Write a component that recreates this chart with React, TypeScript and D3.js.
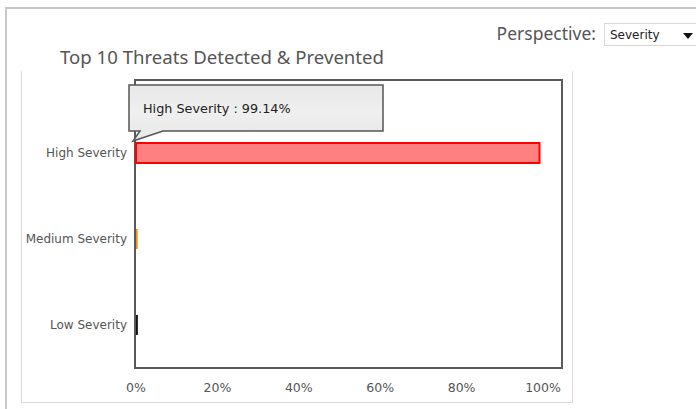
import React from "react";
import * as d3 from "d3";

const categories = ["High Severity", "Medium Severity", "Low Severity"];
const values = [99.14, 0.4, 0.46];
const fills = ["#ff8080", "#ff8c00", "#111111"];
const strokes = ["#ff0000", "#ff8c00", "#111111"];
const xTicks = [0, 20, 40, 60, 80, 100];

const W = 696;
const H = 409;

export default function App() {
  const plot = { left: 135, right: 562, top: 80, bottom: 368 };
  const x = d3.scaleLinear().domain([0, 100]).range([136, 543]);
  const y = d3.scalePoint<string>().domain(categories).range([110, 368]).padding(0.5);
  const barH = 20;
  const fmt = (v: number) => `${v}%`;
  const tipIdx = 0;
  const tipText = `${categories[tipIdx]} : ${values[tipIdx].toFixed(2)}%`;

  const tip = { x0: 129, y0: 85, x1: 383, y1: 131 };
  const tipPath = [
    `M${tip.x0},${tip.y0}`,
    `L${tip.x1},${tip.y0}`,
    `L${tip.x1},${tip.y1}`,
    `L${163},${tip.y1}`,
    `L${133},${141}`,
    `L${140},${tip.y1}`,
    `L${tip.x0},${tip.y1}`,
    "Z",
  ].join(" ");

  return (
    <svg
      width={W}
      height={H}
      style={{ position: "absolute", left: 0, top: 0, background: "#fff" }}
    >
      <defs>
        <linearGradient id="tipFill" x1="0" y1="0" x2="0" y2="1">
          <stop offset="0" stopColor="#e8e8e8" />
          <stop offset="0.5" stopColor="#efefef" />
          <stop offset="1" stopColor="#e8e8e8" />
        </linearGradient>
      </defs>

      {/* outer panel border */}
      <path d={`M6,${H} L6,8 L${W},8`} fill="none" stroke="#c9c9c9" strokeWidth={2} />

      {/* chart panel border */}
      <path
        d={`M21.5,71 L21.5,402.5 L572.5,402.5 L572.5,71`}
        fill="none"
        stroke="#dcdcdc"
        strokeWidth={1}
      />

      {/* header */}
      <text
        x={596}
        y={40}
        textAnchor="end"
        fontFamily="'Noto Sans', 'Open Sans', sans-serif"
        fontSize={17.5}
        fill="#555"
      >
        Perspective:
      </text>
      <rect x={604.5} y={23.5} width={100} height={22} fill="#fff" stroke="#d8d8d8" />
      <text x={610} y={39} fontFamily="'DejaVu Sans', sans-serif" fontSize={12} fill="#222">
        Severity
      </text>
      <path d="M683,33 L693,33 L688,39 Z" fill="#111" />

      <text
        x={60}
        y={64}
        fontFamily="'Noto Sans', 'Open Sans', sans-serif"
        fontSize={18.6}
        fill="#555"
      >
        Top 10 Threats Detected &amp; Prevented
      </text>

      {/* plot frame */}
      <rect
        x={plot.left}
        y={plot.top}
        width={plot.right - plot.left}
        height={plot.bottom - plot.top}
        fill="#fff"
        stroke="#5a5a5a"
        strokeWidth={2}
      />

      {/* bars */}
      {categories.map((c, i) => {
        const w = x(values[i]) - x(0);
        const yc = y(c) as number;
        return (
          <rect
            key={c}
            x={x(0)}
            y={yc - barH / 2}
            width={Math.max(w, 1)}
            height={barH}
            fill={fills[i]}
            stroke={i === 0 ? strokes[i] : "none"}
            strokeWidth={2}
          />
        );
      })}

      {/* category labels */}
      {categories.map((c) => (
        <text
          key={c}
          x={127}
          y={(y(c) as number) + 4}
          textAnchor="end"
          fontFamily="'DejaVu Sans', sans-serif"
          fontSize={12}
          fill="#555"
        >
          {c}
        </text>
      ))}

      {/* x tick labels */}
      {xTicks.map((t) => (
        <text
          key={t}
          x={x(t)}
          y={392}
          textAnchor="middle"
          fontFamily="'DejaVu Sans', sans-serif"
          fontSize={12.5}
          fill="#555"
        >
          {fmt(t)}
        </text>
      ))}

      {/* tooltip */}
      <path d={tipPath} fill="url(#tipFill)" stroke="#555" strokeWidth={1.5} />
      <text
        x={143}
        y={113}
        fontFamily="'DejaVu Sans', sans-serif"
        fontSize={12.8}
        fill="#222"
      >
        {tipText}
      </text>
    </svg>
  );
}
